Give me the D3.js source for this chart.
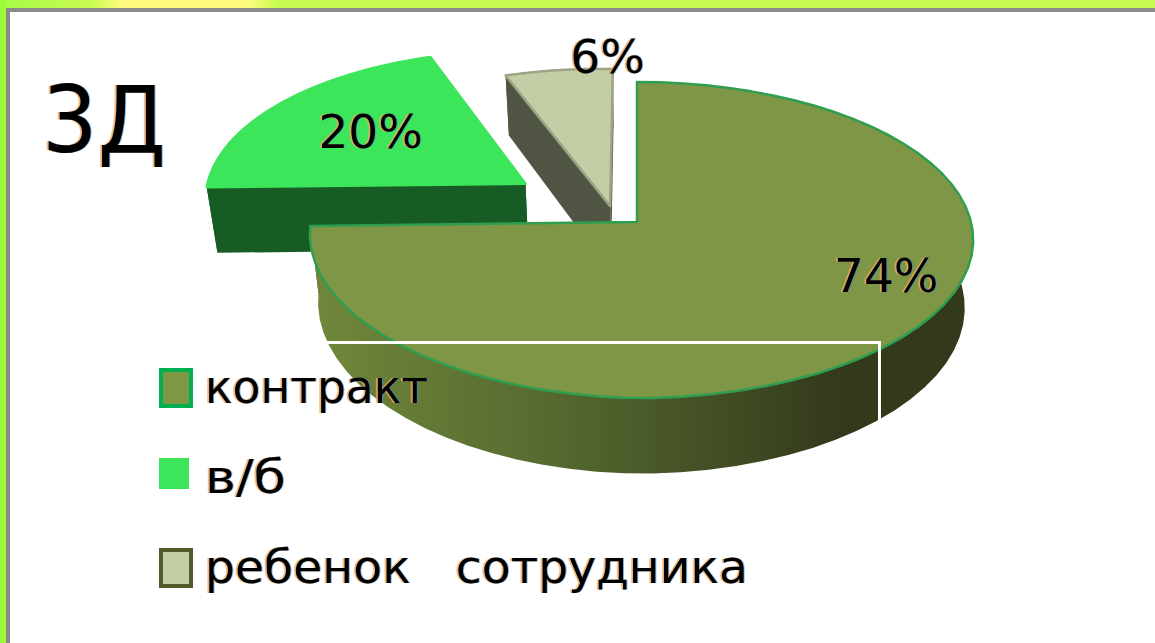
<!DOCTYPE html>
<html>
<head>
<meta charset="utf-8">
<script src="https://d3js.org/d3.v7.min.js"></script>
<style>
  html, body { margin: 0; padding: 0; background: #fff; }
  svg { display: block; }
  text {
    font-family: "DejaVu Sans", sans-serif; fill: #000; white-space: pre;
    filter: drop-shadow(-1.2px 0 rgba(255,170,80,.7)) drop-shadow(1.6px 0 rgba(50,140,225,.6));
  }
</style>
</head>
<body>
<svg width="1155" height="643"></svg>
<script>
const title = "3Д";
const categories = ["контракт", "в/б", "ребенок   сотрудника"];
const values = [74, 20, 6];

const topColors = ["#7f9647", "#3de55a", "#c2cfa6"];
const wallColors = ["url(#mainWall)", "#175c24", "#4f5542"];
const rimColors = ["#2f9e4f", "#3de55a", "#9aa585"];
const legendBorders = ["#00b050", "#3de55a", "#4f5b2a"];

// how far each slice is pulled out, and where its label sits (model units, degrees)
const explode = [{ r: 0, a: 0 }, { r: 0.425, a: -56 }, { r: 0.13, a: -40 }];
const labelAt = [{ r: 0.79, a: 114.6 }, { r: 0.63, a: -56 }, { r: 1.11, a: -1 }];

const svg = d3.select("svg");
const rad = d => d * Math.PI / 180;

// frame of the original screenshot
const defs = svg.append("defs");
const strip = defs.append("linearGradient").attr("id", "strip");
[[0, "#a6fb44"], [0.08, "#c8fb50"], [0.105, "#fffc80"], [0.215, "#fffc80"], [0.24, "#c8fb50"], [1, "#c8fb50"]]
  .forEach(s => strip.append("stop").attr("offset", s[0]).attr("stop-color", s[1]));
const wall = defs.append("linearGradient").attr("id", "mainWall")
  .attr("gradientUnits", "userSpaceOnUse").attr("x1", 315).attr("x2", 975).attr("y1", 0).attr("y2", 0);
[[0, "#70873a"], [0.35, "#566a30"], [0.6, "#434f25"], [0.8, "#33391b"], [1, "#33391b"]]
  .forEach(s => wall.append("stop").attr("offset", s[0]).attr("stop-color", s[1]));

svg.append("rect").attr("width", 1155).attr("height", 8).attr("fill", "url(#strip)");
svg.append("rect").attr("y", 0).attr("width", 6).attr("height", 643).attr("fill", "#9dfb3c");
svg.append("rect").attr("x", 6).attr("y", 8).attr("width", 1149).attr("height", 4).attr("fill", "#8a8a8a");
svg.append("rect").attr("x", 6).attr("y", 8).attr("width", 4).attr("height", 635).attr("fill", "#8a8a8a");

// perspective projection of the pie: u to the right, v to the back, z downwards
const cx = 637, cy = 222, Q = 156, H = 67;
const project = (u, v, z) => {
  const s = 1 / (1 + 0.114 * v);
  const R = u > 0 ? 334 : 325;
  const tilt = u < 0 ? 6 * u : 0;
  return [cx + R * u * s * (1 - 0.025 * z), cy + tilt + (-Q * v + H * z) * s];
};

const pie = d3.pie().sort(null)(values);
const line = d3.line();

const slices = pie.map((p, i) => {
  const e = explode[i];
  const ou = e.r * Math.sin(rad(e.a));
  const ov = e.r * Math.cos(rad(e.a));
  const at = (r, a, z) => project(ou + r * Math.sin(a), ov + r * Math.cos(a), z);
  const angles = d3.range(0, 61).map(k => p.startAngle + (p.endAngle - p.startAngle) * k / 60);
  return { i, p, at, angles };
});

const marks = svg.append("g");

// back slices first, the big one last so it covers them
[1, 2, 0].forEach(i => {
  const s = slices[i];
  const g = marks.append("g");
  const rimTop = s.angles.map(a => s.at(1, a, 0));
  const rimBottom = s.angles.map(a => s.at(1, a, 1));
  const first = s.angles[0], last = s.angles[60];

  // radial cut faces
  [first, last].forEach(a => {
    g.append("path")
      .attr("d", line([s.at(0, a, 0), s.at(1, a, 0), s.at(1, a, 1), s.at(0, a, 1)]) + "Z")
      .attr("fill", i === 0 ? "#33391b" : wallColors[i]);
  });
  // outer wall
  g.append("path")
    .attr("d", line(rimTop.concat(rimBottom.reverse())) + "Z")
    .attr("fill", wallColors[i]);
  // top face
  g.append("path")
    .attr("d", line([s.at(0, first, 0)].concat(rimTop)) + "Z")
    .attr("fill", topColors[i])
    .attr("stroke", rimColors[i])
    .attr("stroke-width", 2.5)
    .attr("stroke-linejoin", "round");
});

// stray white line left in the screenshot
svg.append("path")
  .attr("d", "M322,342.5H879.5V424")
  .attr("fill", "none")
  .attr("stroke", "#fff")
  .attr("stroke-width", 3);

// percent labels
slices.forEach(s => {
  const l = labelAt[s.i];
  const pos = s.at(l.r, rad(l.a), 0);
  svg.append("text")
    .attr("x", pos[0]).attr("y", pos[1] + 17)
    .attr("text-anchor", "middle")
    .attr("font-size", 47)
    .text(values[s.i] + "%");
});

svg.append("text")
  .attr("x", 42).attr("y", 152)
  .attr("font-size", 93)
  .attr("textLength", 124)
  .attr("lengthAdjust", "spacingAndGlyphs")
  .text(title);

// legend
const legendY = d3.scalePoint().domain(categories).range([388, 568]);
const legend = svg.append("g").selectAll("g").data(categories).enter().append("g")
  .attr("transform", d => `translate(0,${legendY(d)})`);
legend.append("rect")
  .attr("x", (d, i) => i === 1 ? 159 : 161)
  .attr("y", (d, i) => i === 1 ? -20 : -18)
  .attr("width", 30)
  .attr("height", (d, i) => i === 1 ? 31 : 36)
  .attr("fill", (d, i) => topColors[i])
  .attr("stroke", (d, i) => i === 1 ? "none" : legendBorders[i])
  .attr("stroke-width", 4);
legend.append("text")
  .attr("x", 205).attr("y", 15)
  .attr("font-size", 46)
  .attr("textLength", (d, i) => [223, 81, 543][i])
  .attr("lengthAdjust", "spacingAndGlyphs")
  .text(d => d);
</script>
</body>
</html>
